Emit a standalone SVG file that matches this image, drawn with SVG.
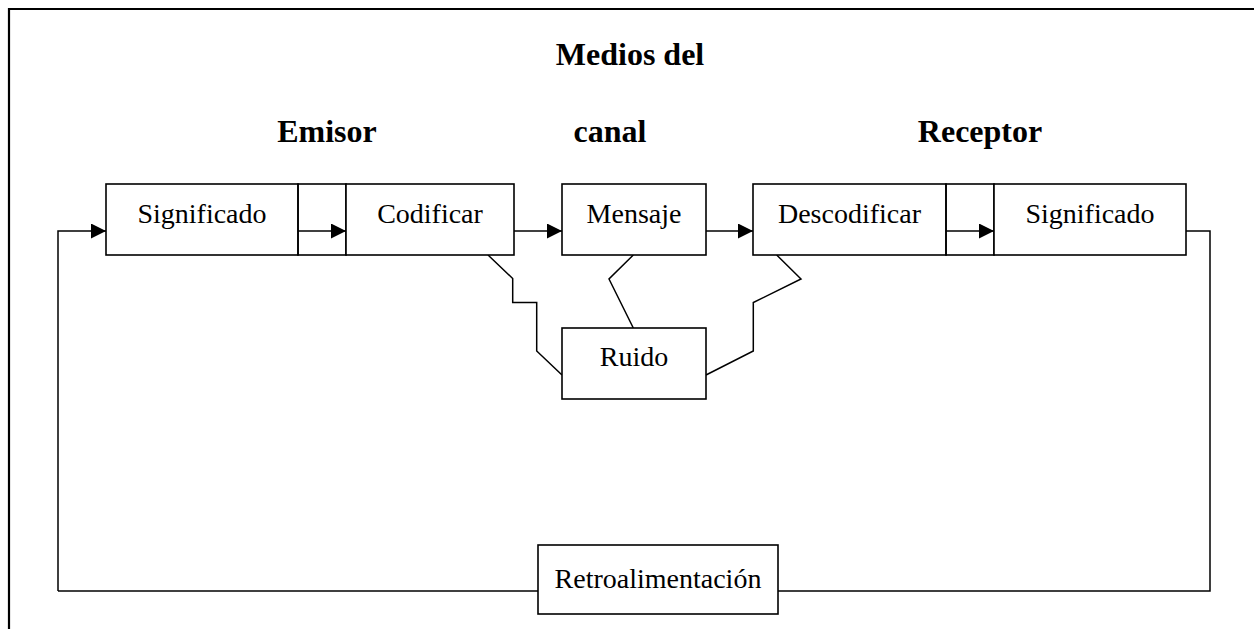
<svg xmlns="http://www.w3.org/2000/svg" width="1254" height="629" viewBox="0 0 1254 629">
<style>
.box{fill:#fff;stroke:#000;stroke-width:1.6}
.ln{fill:none;stroke:#000;stroke-width:1.5}
.t{font-family:"Liberation Serif","Times New Roman",serif;font-size:28px;fill:#000;text-anchor:middle}
.h{font-family:"Liberation Serif","Times New Roman",serif;font-size:32px;font-weight:bold;fill:#000;text-anchor:middle}
</style>
<defs>
<marker id="ah" markerWidth="15" markerHeight="15" refX="15" refY="7.5" orient="auto" markerUnits="userSpaceOnUse">
<path d="M0,0 L15,7.5 L0,15 Z" fill="#000"/>
</marker>
</defs>
<rect width="1254" height="629" fill="#fff"/>
<g id="frame">
<path d="M9,629 L9,9 L1254,9" fill="none" stroke="#000" stroke-width="2.2"/>
</g>
<g id="headers">
<text class="h" x="630" y="65">Medios del</text>
<text class="h" x="327" y="142">Emisor</text>
<text class="h" x="610" y="142">canal</text>
<text class="h" x="980" y="142">Receptor</text>
</g>
<g id="connectors">
<path class="ln" d="M58,591 L58,231 L106,231" marker-end="url(#ah)"/>
<path class="ln" d="M298,231 L346,231" marker-end="url(#ah)"/>
<path class="ln" d="M514,231 L562,231" marker-end="url(#ah)"/>
<path class="ln" d="M706,231 L753,231" marker-end="url(#ah)"/>
<path class="ln" d="M946,231 L994,231" marker-end="url(#ah)"/>
<path class="ln" d="M1186,231 L1210,231 L1210,591 L778,591"/>
<path class="ln" d="M538,591 L58,591"/>
<path class="ln" d="M488,255 L512.7,278.5 L512.7,302.5 L536.7,302.5 L536.7,351 L562,375"/>
<path class="ln" d="M633.3,255 L609,279 L633.3,328"/>
<path class="ln" d="M776.7,255 L801,279 L753.3,302.5 L753.3,351 L706,375"/>
</g>
<g id="significado1">
<rect class="box" x="106" y="184" width="192" height="71"/>
<text class="t" x="202" y="223">Significado</text>
</g>
<g id="link1">
<rect class="box" x="298" y="184" width="48" height="71" fill="none" style="fill:none"/>
</g>
<g id="codificar">
<rect class="box" x="346" y="184" width="168" height="71"/>
<text class="t" x="430" y="223">Codificar</text>
</g>
<g id="mensaje">
<rect class="box" x="562" y="184" width="144" height="71"/>
<text class="t" x="634" y="223">Mensaje</text>
</g>
<g id="descodificar">
<rect class="box" x="753" y="184" width="193" height="71"/>
<text class="t" x="849.5" y="223">Descodificar</text>
</g>
<g id="link2">
<rect class="box" x="946" y="184" width="48" height="71" style="fill:none"/>
</g>
<g id="significado2">
<rect class="box" x="994" y="184" width="192" height="71"/>
<text class="t" x="1090" y="223">Significado</text>
</g>
<g id="ruido">
<rect class="box" x="562" y="328" width="144" height="71"/>
<text class="t" x="634" y="366">Ruido</text>
</g>
<g id="retroalimentacion">
<rect class="box" x="538" y="545" width="240" height="69"/>
<text class="t" x="658" y="588">Retroalimentación</text>
</g>
</svg>
